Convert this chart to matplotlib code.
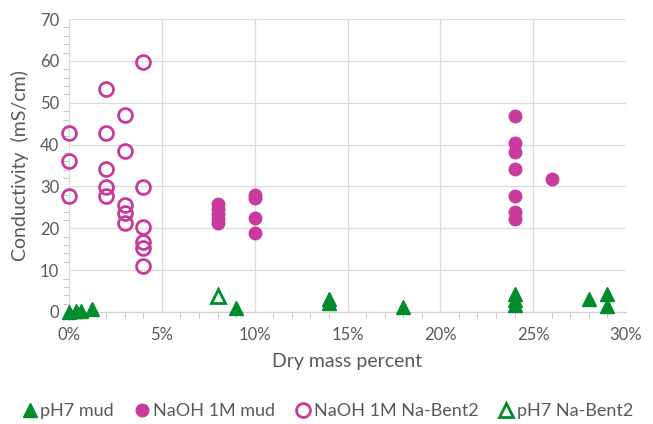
import matplotlib.pyplot as plt
from matplotlib.ticker import MultipleLocator, FuncFormatter

plt.rcParams['font.family'] = ['Lato', 'DejaVu Sans']

magenta = '#C83A9C'
green = '#008C2C'
gray = '#595959'

# pH7 mud (filled triangles)
ph7_mud_x = [0.0, 0.35, 0.65, 1.25, 9.0, 14.0, 14.0, 18.0, 24.0, 24.0, 24.0, 28.0, 29.0, 29.0]
ph7_mud_y = [0.1, 0.2, 0.2, 0.8, 1.0, 3.0, 2.2, 1.2, 4.3, 2.8, 1.7, 3.1, 4.3, 1.5]

# NaOH 1M mud (filled circles)
naoh_mud_x = [8, 8, 8, 8, 8, 10, 10, 10, 10, 24, 24, 24, 24, 24, 24, 24, 26]
naoh_mud_y = [25.7, 24.6, 23.4, 22.3, 21.3, 28.0, 27.2, 22.5, 18.8,
              46.9, 40.5, 38.3, 34.2, 27.6, 23.8, 22.2, 31.9]

# NaOH 1M Na-Bent2 (open circles)
naoh_bent_x = [0, 0, 0, 2, 2, 2, 2, 2, 3, 3, 3, 3, 3, 4, 4, 4, 4, 4, 4]
naoh_bent_y = [42.7, 36.1, 27.7, 53.3, 42.8, 34.2, 29.9, 27.7,
               47.1, 38.5, 25.6, 23.6, 21.3, 59.8, 29.9, 20.2, 16.8, 15.3, 11.1]

# pH7 Na-Bent2 (open triangle)
ph7_bent_x = [8]
ph7_bent_y = [3.7]

fig = plt.figure(figsize=(6.53, 4.24), dpi=100)
ax = fig.add_axes([0.1057, 0.2642, 0.853, 0.6908])

ax.plot(ph7_mud_x, ph7_mud_y, '^', color=green, ms=10, mec=green,
        label='pH7 mud', clip_on=False, zorder=3)
ax.plot(naoh_mud_x, naoh_mud_y, 'o', color=magenta, ms=9, mec=magenta,
        label='NaOH 1M mud', clip_on=False, zorder=3)
ax.plot(naoh_bent_x, naoh_bent_y, 'o', mfc='none', mec=magenta, mew=2, ms=10,
        label='NaOH 1M Na-Bent2', clip_on=False, zorder=3)
ax.plot(ph7_bent_x, ph7_bent_y, '^', mfc='none', mec=green, mew=2, ms=9.5,
        label='pH7 Na-Bent2', clip_on=False, zorder=3)

ax.set_xlim(0, 30)
ax.set_ylim(0, 70)
ax.xaxis.set_major_locator(MultipleLocator(5))
ax.xaxis.set_minor_locator(MultipleLocator(1))
ax.yaxis.set_major_locator(MultipleLocator(10))
ax.yaxis.set_minor_locator(MultipleLocator(2))
ax.xaxis.set_major_formatter(FuncFormatter(lambda v, p: f'{v:.0f}%'))

ax.grid(True, which='major', color='#DCDCDC', lw=0.9)
ax.set_axisbelow(True)
for s in ['top', 'right']:
    ax.spines[s].set_visible(False)
ax.spines['left'].set_color('#DCDCDC')
ax.spines['bottom'].set_color('#D0D0D0')
ax.tick_params(which='both', colors='#BFBFBF', labelcolor=gray, labelsize=12)
ax.tick_params(axis='x', which='major', length=0, pad=11)
ax.tick_params(axis='y', which='major', length=0, pad=7)
ax.tick_params(which='minor', length=4)

ax.set_xlabel('Dry mass percent', fontsize=14, color=gray, labelpad=7)
ax.set_ylabel('Conductivity  (mS/cm)', fontsize=14, color=gray, labelpad=8)

fig.legend(*ax.get_legend_handles_labels(), loc='center',
           bbox_to_anchor=(0.5, 0.03), ncol=4, frameon=False,
           fontsize=13, labelcolor=gray, handletextpad=0.05, columnspacing=1.0,
           handlelength=1.1)

fig.savefig('out.png', dpi=100)
